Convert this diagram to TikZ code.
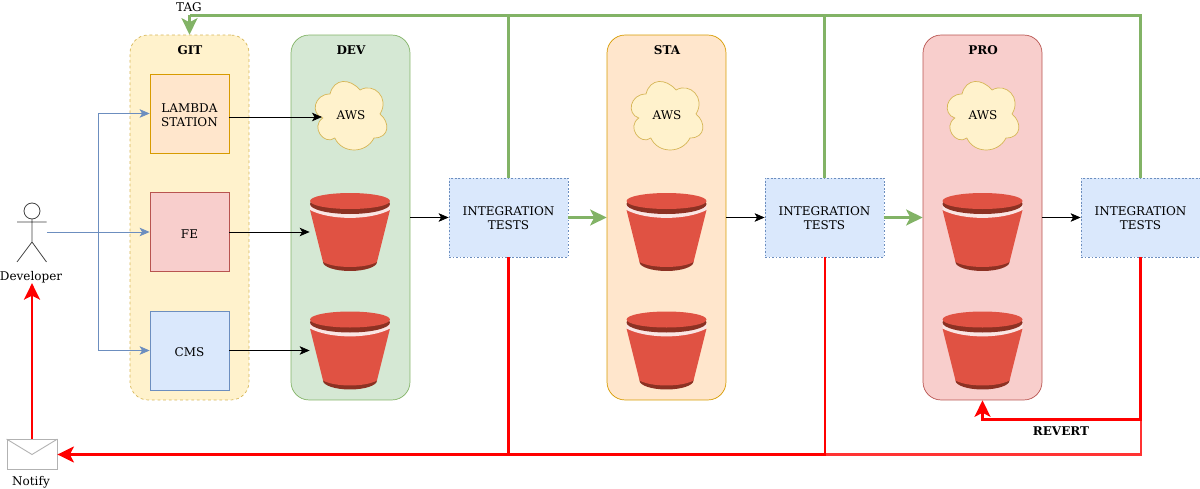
\documentclass[tikz,border=0pt]{standalone}
\usepackage{fontspec}
\setmainfont{DejaVu Serif}
\usetikzlibrary{arrows.meta}
\definecolor{yellowfill}{HTML}{FFF2CC}
\definecolor{yellowline}{HTML}{D6B656}
\definecolor{greenfill}{HTML}{D5E8D4}
\definecolor{greenline}{HTML}{82B366}
\definecolor{orangefill}{HTML}{FFE6CC}
\definecolor{orangeline}{HTML}{D79B00}
\definecolor{redfill}{HTML}{F8CECC}
\definecolor{redline}{HTML}{B85450}
\definecolor{bluefill}{HTML}{DAE8FC}
\definecolor{blueline}{HTML}{6C8EBF}
\definecolor{bucketred}{HTML}{E05243}
\definecolor{bucketdark}{HTML}{8C3123}
\tikzset{
  every node/.style={font=\fontsize{6.83pt}{7.9pt}\selectfont, align=center, inner sep=0pt},
  column/.style={draw, rounded corners=0.36cm, minimum width=2.38cm, minimum height=7.3cm, line width=0.4pt},
  srcbox/.style={draw, minimum width=1.58cm, minimum height=1.58cm, line width=0.45pt},
  testbox/.style={draw=blueline, fill=bluefill, dash pattern=on 1pt off 1pt, minimum width=2.38cm, minimum height=1.58cm, line width=0.45pt},
  awscloud/.style={minimum width=1.16cm, minimum height=0.8cm},
  bucketbox/.style={minimum width=1.6cm, minimum height=1.58cm},
  title/.style={font=\fontsize{6.83pt}{7.9pt}\selectfont\bfseries},
  thinarrow/.style={-{Stealth[length=0.2cm,width=0.17cm,inset=0.05cm]}, line width=0.4pt},
  bluearrow/.style={thinarrow, blueline},
  greenpipe/.style={greenline, line width=1.25pt},
  greenarrow/.style={greenpipe, -{Stealth[length=0.33cm,width=0.32cm,inset=0.08cm]}},
  redarrow/.style={-{Stealth[length=0.33cm,width=0.32cm,inset=0.08cm]}, red, line width=1.3pt}
}
% first line strut, drops the box text a little
\newcommand{\dropline}[1]{\rule{0pt}{#1}}
% bucket icon drawn inside a named node
\newcommand{\drawbucket}[1]{
  \fill[bucketdark] ([yshift=-0.6cm]#1.center) ellipse [x radius=0.54cm, y radius=0.18cm];
  \fill[bucketred] ([shift={(-0.8cm,0.44cm)}]#1.center) -- ([shift={(-0.54cm,-0.6cm)}]#1.center)
    .. controls ([shift={(-0.3cm,-0.733cm)}]#1.center) and ([shift={(0.3cm,-0.733cm)}]#1.center) .. ([shift={(0.54cm,-0.6cm)}]#1.center)
    -- ([shift={(0.8cm,0.44cm)}]#1.center) -- cycle;
  \fill[white!85!bucketred] ([shift={(-0.8cm,0.55cm)}]#1.center) -- ([shift={(-0.8cm,0.44cm)}]#1.center)
    .. controls ([shift={(-0.4cm,0.23cm)}]#1.center) and ([shift={(0.4cm,0.23cm)}]#1.center) .. ([shift={(0.8cm,0.44cm)}]#1.center)
    -- ([shift={(0.8cm,0.55cm)}]#1.center) -- cycle;
  \fill[bucketdark] ([yshift=0.56cm]#1.center) ellipse [x radius=0.8cm, y radius=0.2cm];
  \fill[bucketred] ([yshift=0.62cm]#1.center) ellipse [x radius=0.8cm, y radius=0.16cm];
}
% cloud outline, put under its AWS node
\newcommand{\drawcloud}[1]{
  \begin{scope}[shift={#1}, x=1.6cm, y=-1.6cm]
    \draw[draw=yellowline, fill=yellowfill, line width=0.4pt] (-0.25,-0.25)
      .. controls (-0.45,-0.25) and (-0.5,0) .. (-0.34,0.05)
      .. controls (-0.5,0.16) and (-0.32,0.4) .. (-0.19,0.3)
      .. controls (-0.1,0.5) and (0.2,0.5) .. (0.3,0.3)
      .. controls (0.5,0.3) and (0.5,0.1) .. (0.375,0)
      .. controls (0.5,-0.2) and (0.3,-0.4) .. (0.125,-0.3)
      .. controls (0,-0.45) and (-0.2,-0.45) .. (-0.25,-0.25) -- cycle;
  \end{scope}
}
\begin{document}
\begin{tikzpicture}[x=0.02cm, y=-0.02cm]
  \useasboundingbox (0,0) rectangle (1200,489);

  % Columns
  \node[column, dash pattern=on 1.6pt off 1.6pt, draw=yellowline, fill=yellowfill] (git) at (189.5,217.5) {};
  \node[title] (gittitle) at (190,50) {GIT};
  \node[column, draw=greenline, fill=greenfill] (dev) at (350.5,217.5) {};
  \node[title] (devtitle) at (351,50) {DEV};
  \node[column, draw=orangeline, fill=orangefill] (sta) at (666.5,217.5) {};
  \node[title] (statitle) at (667,50) {STA};
  \node[column, draw=redline, fill=redfill] (pro) at (982.5,217.5) {};
  \node[title] (protitle) at (983,50) {PRO};

  % Sources
  \node[srcbox, draw=orangeline, fill=orangefill] (lambda) at (189.5,113.5) {\dropline{7pt}LAMBDA\\STATION};
  \node[srcbox, draw=redline, fill=redfill] (fe) at (189.5,232) {\dropline{7.6pt}FE};
  \node[srcbox, draw=blueline, fill=bluefill] (cms) at (189.5,350.5) {\dropline{7.2pt}CMS};

  % AWS clouds
  \drawcloud{(350,114)}
  \drawcloud{(666,114)}
  \drawcloud{(982,114)}
  \node[awscloud] (awsdev) at (351,115) {AWS};
  \node[awscloud] (awssta) at (667,115) {AWS};
  \node[awscloud] (awspro) at (983,115) {AWS};

  % Buckets
  \node[bucketbox] (bucketdevfe) at (350,232) {};
  \node[bucketbox] (bucketdevcms) at (350,350.5) {};
  \node[bucketbox] (bucketstafe) at (666.5,232) {};
  \node[bucketbox] (bucketstacms) at (666.5,350.5) {};
  \node[bucketbox] (bucketprofe) at (982.5,232) {};
  \node[bucketbox] (bucketprocms) at (982.5,350.5) {};
  \drawbucket{bucketdevfe}
  \drawbucket{bucketdevcms}
  \drawbucket{bucketstafe}
  \drawbucket{bucketstacms}
  \drawbucket{bucketprofe}
  \drawbucket{bucketprocms}

  % Integration tests
  \node[testbox] (testdev) at (508.5,217.5) {\dropline{6.2pt}INTEGRATION\\TESTS};
  \node[testbox] (teststa) at (824.5,217.5) {\dropline{6.2pt}INTEGRATION\\TESTS};
  \node[testbox] (testpro) at (1140.5,217.5) {\dropline{6.2pt}INTEGRATION\\TESTS};

  % Developer
  \node[minimum width=0.58cm, minimum height=1.2cm] (developer) at (32,232) {};
  \draw[line width=0.45pt, black!75] (32,211) circle [radius=8];
  \draw[line width=0.45pt, black!75] (32,219) -- (32,242) (17,222) -- (46.5,222) (17,262) -- (32,242) -- (46.5,262);
  \node (developerlabel) at (31,277) {Developer};

  % Notify
  \node[draw=black!30, fill=white, minimum width=1cm, minimum height=0.6cm, line width=0.5pt] (notify) at (32,454.5) {};
  \draw[black!30, line width=0.5pt] (notify.north west) -- (32,454.5) -- (notify.north east);
  \node (notifylabel) at (31,482) {Notify};

  % Junctions and labels
  \coordinate (blueturn) at (98,232);
  \coordinate (awsentry) at (322,117);
  \coordinate (tagcorner) at (189.5,15.5);
  \coordinate (redcorner) at (1140.5,454.5);
  \coordinate (revertturn) at (1140.5,419.5);
  \node (tag) at (189,7) {TAG};
  \node[title] (revert) at (1061,431) {REVERT};

  % Developer to git
  \draw[bluearrow] (developer.east) -- (fe);
  \draw[bluearrow] (blueturn) |- (lambda);
  \draw[bluearrow] (blueturn) |- (cms);

  % Git to dev
  \draw[thinarrow] (lambda.east |- awsentry) -- (awsentry);
  \draw[thinarrow] (fe) -- (bucketdevfe);
  \draw[thinarrow] (cms) -- (bucketdevcms);

  % Pipeline
  \draw[thinarrow] (dev) -- (testdev);
  \draw[greenarrow] (testdev) -- (sta);
  \draw[thinarrow] (sta) -- (teststa);
  \draw[greenarrow] (teststa) -- (pro);
  \draw[thinarrow] (pro) -- (testpro);

  % Tag
  \draw[greenpipe] (testpro.north) |- (tagcorner);
  \draw[greenarrow] (tagcorner) -- (git.north);
  \draw[greenpipe] (testdev.north) -- (testdev.north |- tagcorner);
  \draw[greenpipe] (teststa.north) -- (teststa.north |- tagcorner);

  % Failures
  \draw[red!80, line width=1.15pt] (revertturn) -- (redcorner) -- (teststa.south |- redcorner);
  \draw[red, line width=1.15pt] (teststa.south) |- (testdev.south |- redcorner);
  \draw[red, line width=1.15pt] (testdev.south) -- (testdev.south |- redcorner);
  \draw[redarrow] (testdev.south |- redcorner) -- (notify.east);
  \draw[redarrow] (testpro.south) -- (revertturn) -| (pro.south);
  \draw[redarrow] (notify.north) -- (developerlabel.south -| notify.north);
\end{tikzpicture}
\end{document}
